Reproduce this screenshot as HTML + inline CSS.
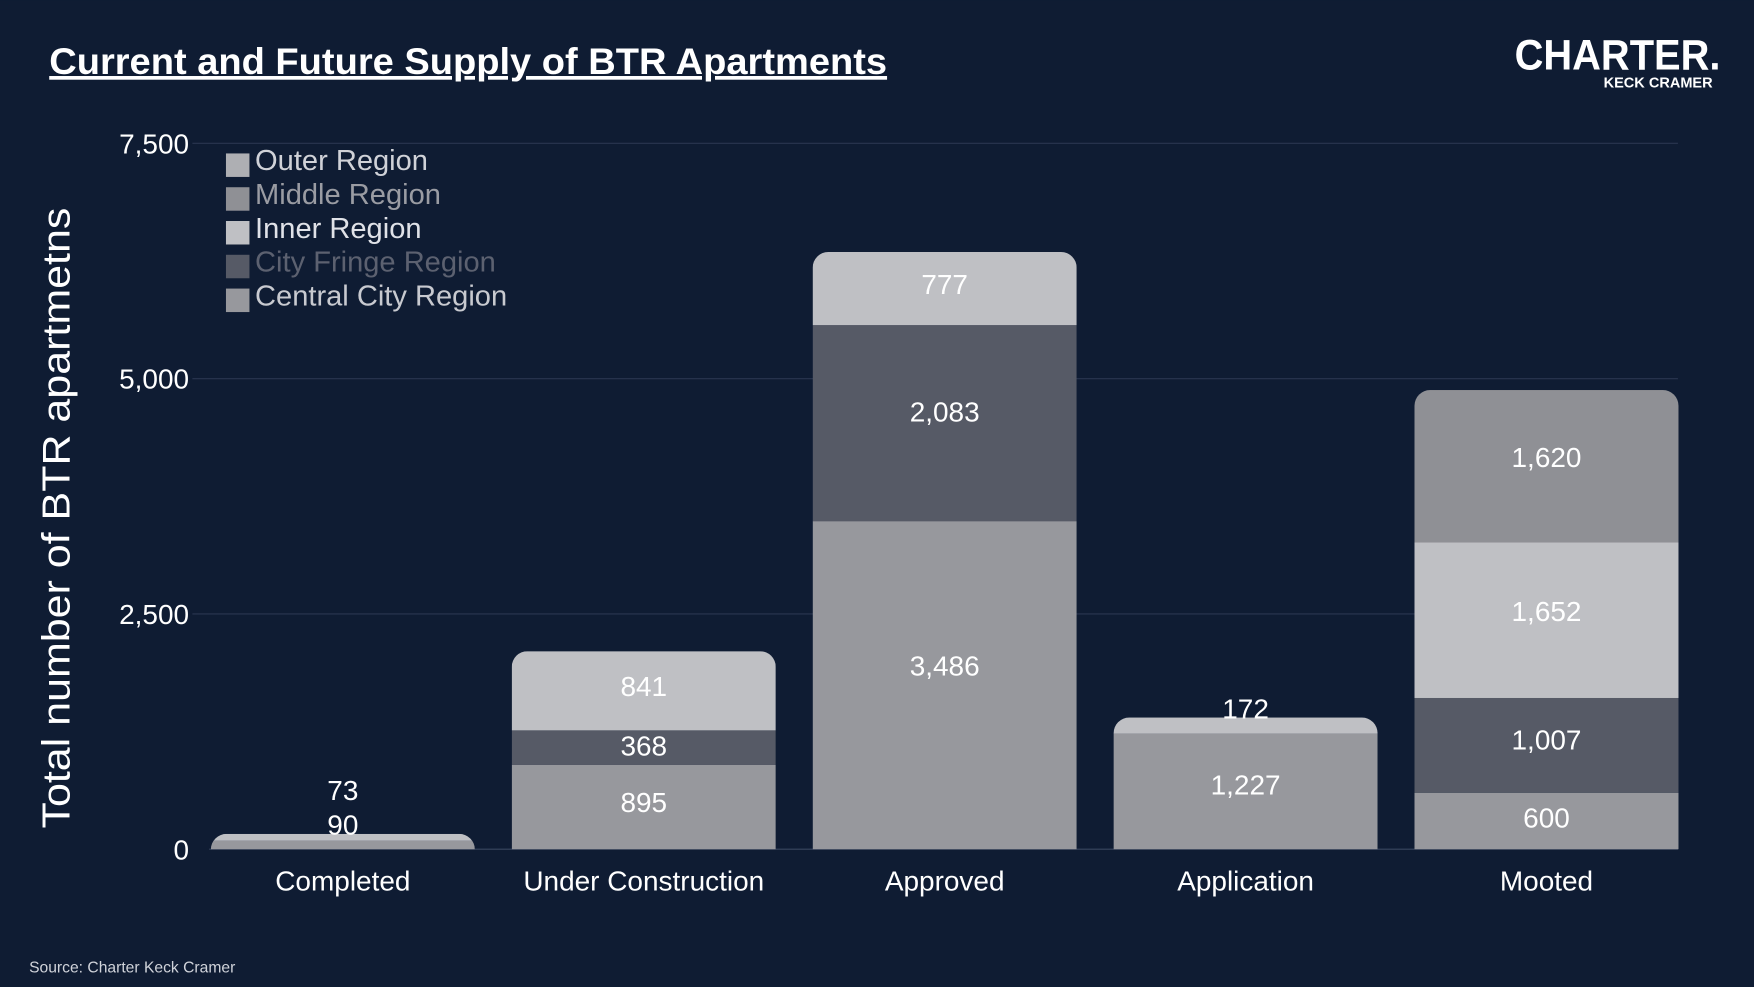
<!DOCTYPE html>
<html><head><meta charset="utf-8"><style>
html,body{margin:0;padding:0;background:#0f1c33;}
svg{display:block;font-family:"Liberation Sans",sans-serif;}
</style></head><body>
<svg id="chart" width="1754" height="987" viewBox="0 0 1568 882" xmlns="http://www.w3.org/2000/svg">
<rect width="1568" height="882" fill="#0f1c33"/>
<text x="44" y="66" fill="#ffffff" font-size="33" font-weight="bold" text-decoration="underline" textLength="749" lengthAdjust="spacingAndGlyphs">Current and Future Supply of BTR Apartments</text>
<text x="1538" y="62" fill="#ffffff" font-size="38" font-weight="bold" text-anchor="end" textLength="184" lengthAdjust="spacingAndGlyphs">CHARTER.</text>
<text x="1531" y="78" fill="#ffffff" font-size="13" font-weight="bold" text-anchor="end">KECK CRAMER</text>
<text transform="translate(62,463) rotate(-90)" fill="#ffffff" font-size="35" text-anchor="middle" textLength="555" lengthAdjust="spacingAndGlyphs">Total number of BTR apartmetns</text>
<text x="26" y="869" fill="#d0d3da" font-size="14">Source: Charter Keck Cramer</text>
<g id="grid"></g><g id="bars"></g><g id="legend"></g>
</svg>
<script>
const categories=["Completed","Under Construction","Approved","Application","Mooted"];
const seriesNames=["Central City Region","City Fringe Region","Inner Region","Middle Region","Outer Region"];
const central=[90,895,3486,1227,600];
const fringe=[0,368,2083,0,1007];
const inner=[73,841,777,172,1652];
const middle=[0,0,0,0,1620];
const outer=[0,0,0,0,0];
const yTicks=[0,2500,5000,7500];
const yTickLabels=["0","2,500","5,000","7,500"];

const NS="http://www.w3.org/2000/svg";
const colors=["#97989d","#565a66","#bfc0c4","#8f9095","#aeafb3"];
const series=[central,fringe,inner,middle,outer];
const y0=759,yTop=128,yMax=7500;
const y=v=>y0-(y0-yTop)*v/yMax;
const x0=172,step=269,bw=236;
const xc=i=>x0+step*(i+0.5);
function mk(tag,attrs,parent){const e=document.createElementNS(NS,tag);for(const k in attrs)e.setAttribute(k,attrs[k]);parent.appendChild(e);return e;}
const grid=document.getElementById('grid'),bars=document.getElementById('bars'),legend=document.getElementById('legend');
yTicks.forEach((t,i)=>{
  if(t>0){const l=mk('line',{x1:x0,x2:1500,y1:y(t),y2:y(t),stroke:'#2a3650','stroke-width':1},grid);
  
  }
  const tx=mk('text',{x:169,y:y(t)+9,fill:'#fff','font-size':25,'text-anchor':'end'},grid);
  tx.textContent=yTickLabels[i];
  
  
});
const ax=mk('line',{x1:x0+15,x2:1500,y1:y0,y2:y0,stroke:'#3a4660','stroke-width':1},grid);


categories.forEach((c,i)=>{
  const cx=xc(i),left=cx-bw/2;
  let total=0;series.forEach(s=>total+=s[i]);
  const g=mk('g',{},bars);
  
  
  const cid='clip'+i;
  const cp=mk('clipPath',{id:cid},g);
  mk('rect',{x:left,y:y(total),width:bw,height:y0-y(total)+20,rx:14},cp);
  const gg=mk('g',{'clip-path':'url(#'+cid+')'},g);
  let cum=0,prevY=768;
  series.forEach((s,k)=>{
    const v=s[i];if(!v)return;
    const yb=y(cum),yt=y(cum+v);cum+=v;
    const r=mk('rect',{x:left,y:yt,width:bw,height:Math.min(yb,y0)-yt,fill:colors[k]},gg);
    
    
    const h=yb-yt;let ly=(yb+yt)/2-Math.min(18,h*0.06);
    if(h<28){ly=Math.min(yt-8,prevY-31);}
    prevY=ly;
    const t=mk('text',{x:cx,y:ly+9,fill:'#fff','font-size':25,'text-anchor':'middle'},g);
    t.textContent=v.toLocaleString('en-US');
    
    
  });
  const xl=mk('text',{x:cx,y:796,fill:'#fff','font-size':25,'text-anchor':'middle'},g);
  xl.textContent=c;
  
  
});
const legOrder=[4,3,2,1,0];
const legText=["#d0d2d8","#9a9ca3","#e0e2e8","#5c6170","#c8cad0"];
legOrder.forEach((k,j)=>{
  const yy=143+j*30.2;
  const g=mk('g',{},legend);
  
  
  mk('rect',{x:202,y:yy-6,width:21,height:21,fill:colors[k]},g);
  const t=mk('text',{x:228,y:yy+9,fill:legText[j],'font-size':26},g);
  t.textContent=seriesNames[k];
});
</script>
</body></html>
